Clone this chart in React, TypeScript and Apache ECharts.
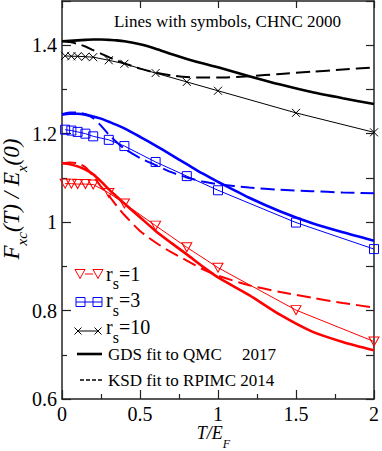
import React, { useEffect, useRef } from 'react';
import * as echarts from 'echarts';

// Symbol (CHNC 2000) data
const symX = [0.02, 0.06, 0.1, 0.15, 0.2, 0.3, 0.4, 0.6, 0.8, 1.0, 1.5, 2.0];
const rs1Sym = [1.087, 1.087, 1.086, 1.086, 1.085, 1.066, 1.042, 0.992, 0.943, 0.897, 0.801, 0.730];
const rs3Sym = [1.209, 1.207, 1.204, 1.200, 1.194, 1.186, 1.172, 1.136, 1.104, 1.072, 0.999, 0.939];
const rs10Sym = [1.376, 1.375, 1.375, 1.374, 1.373, 1.366, 1.358, 1.337, 1.317, 1.297, 1.247, 1.203];

// Fit curves
const fitX = [0, 0.05, 0.1, 0.15, 0.2, 0.25, 0.3, 0.35, 0.4, 0.5, 0.6, 0.7, 0.8, 0.9, 1.0, 1.2, 1.4, 1.6, 1.8, 2.0];
const rs10GDS = [1.409, 1.410, 1.411, 1.412, 1.413, 1.413, 1.412, 1.411, 1.409, 1.402, 1.392, 1.380, 1.369, 1.359, 1.350, 1.330, 1.311, 1.294, 1.280, 1.267];
const rs10KSD = [1.409, 1.407, 1.403, 1.397, 1.389, 1.381, 1.373, 1.366, 1.359, 1.347, 1.338, 1.332, 1.328, 1.327, 1.327, 1.330, 1.335, 1.340, 1.345, 1.350];
const rs3GDS = [1.243, 1.245, 1.245, 1.243, 1.239, 1.234, 1.227, 1.220, 1.212, 1.193, 1.173, 1.152, 1.131, 1.110, 1.091, 1.055, 1.024, 0.998, 0.977, 0.958];
const rs3KSD = [1.244, 1.248, 1.248, 1.244, 1.235, 1.218, 1.198, 1.181, 1.166, 1.145, 1.129, 1.113, 1.101, 1.092, 1.086, 1.078, 1.073, 1.070, 1.067, 1.065];
const rs1GDS = [1.133, 1.131, 1.126, 1.119, 1.108, 1.092, 1.074, 1.058, 1.042, 1.011, 0.980, 0.953, 0.927, 0.900, 0.875, 0.835, 0.790, 0.753, 0.729, 0.710];
const rs1KSD = [1.133, 1.135, 1.133, 1.124, 1.104, 1.080, 1.060, 1.037, 1.016, 0.980, 0.954, 0.932, 0.913, 0.894, 0.879, 0.857, 0.842, 0.829, 0.817, 0.807];

const xTicks = [0, 0.5, 1, 1.5, 2];
const yTicks = [0.6, 0.8, 1, 1.2, 1.4];

const RED = '#ff0000';
const BLUE = '#0000ff';
const BLACK = '#000000';
const AXIS = '#222222';
const FONT = '"Liberation Serif", "Times New Roman", serif';

const pairs = (xs: number[], ys: number[]) => xs.map((x, i) => [x, ys[i]]);

const crossPath = 'path://M0,0L10,10M10,0L0,10';

export default function App() {
  const ref = useRef<HTMLDivElement>(null);
  useEffect(() => {
    if (!ref.current) return;
    const chart = echarts.init(ref.current, null, { renderer: 'svg' });

    const fit = (name: string, ys: number[], color: string, dashed: boolean) => ({
      name,
      type: 'line',
      data: pairs(fitX, ys),
      smooth: 0.25,
      showSymbol: false,
      symbol: 'none',
      lineStyle: dashed
        ? { color, width: 2, type: [14, 6] }
        : { color, width: 2.6, type: 'solid' },
      z: 3,
    });

    const sym = (name: string, ys: number[], color: string, symbol: string, size: any, rotate = 0) => ({
      name,
      type: 'line',
      data: pairs(symX, ys),
      symbol,
      symbolSize: size,
      symbolRotate: rotate,
      showSymbol: true,
      lineStyle: { color, width: 1 },
      itemStyle: { color: 'rgba(0,0,0,0)', borderColor: color, borderWidth: 1 },
      z: 4,
    });

    const richLegend = () => ({
      a: { fontSize: 20, fontFamily: FONT, lineHeight: 20, verticalAlign: 'top', fill: BLACK },
      b: { fontSize: 16, fontFamily: FONT, verticalAlign: 'top', padding: [12, 0, 0, 0], fill: BLACK },
    });

    const graphic: any[] = [
      // Title
      {
        type: 'text', x: 227.5, y: 21,
        style: { text: 'Lines with symbols, CHNC 2000', fontSize: 17, fontFamily: FONT, fill: BLACK, align: 'center', verticalAlign: 'middle' },
      },
      // y-axis title
      {
        type: 'text', x: 14.5, y: 199, rotation: Math.PI / 2,
        style: {
          text: '{a|F}{b|xc}{a|(T) / E}{b|x}{a|(0)}',
          align: 'center', verticalAlign: 'middle', fill: BLACK,
          rich: {
            a: { fontSize: 23, fontFamily: FONT, fontStyle: 'italic', lineHeight: 23, verticalAlign: 'top', fill: BLACK },
            b: { fontSize: 15, fontFamily: FONT, fontStyle: 'italic', verticalAlign: 'top', padding: [14, 0, 0, 0], fill: BLACK },
          },
        },
      },
      // x-axis title
      {
        type: 'text', x: 213.5, y: 424,
        style: {
          text: '{a|T/E}{b|F}',
          align: 'center', verticalAlign: 'top', fill: BLACK,
          rich: {
            a: { fontSize: 18, fontFamily: FONT, fontStyle: 'italic', lineHeight: 18, verticalAlign: 'top', fill: BLACK },
            b: { fontSize: 12, fontFamily: FONT, fontStyle: 'italic', verticalAlign: 'top', padding: [14, 0, 0, 0], fill: BLACK },
          },
        },
      },
      // Legend row 1: rs=1 triangles
      { type: 'line', shape: { x1: 85, y1: 274, x2: 93, y2: 274 }, style: { stroke: RED, lineWidth: 1 } },
      { type: 'polygon', shape: { points: [[75, 269.5], [85, 269.5], [80, 278.5]] }, style: { fill: 'none', stroke: RED, lineWidth: 1 } },
      { type: 'polygon', shape: { points: [[93, 269.5], [103, 269.5], [98, 278.5]] }, style: { fill: 'none', stroke: RED, lineWidth: 1 } },
      { type: 'text', x: 106, y: 263.5, style: { text: '{a|r}{b|s}{a|=1}', align: 'left', verticalAlign: 'top', rich: richLegend() } },
      // Legend row 2: rs=3 squares
      { type: 'line', shape: { x1: 76, y1: 302, x2: 102, y2: 302 }, style: { stroke: BLUE, lineWidth: 1 } },
      { type: 'rect', shape: { x: 76, y: 297.5, width: 9, height: 9 }, style: { fill: 'none', stroke: BLUE, lineWidth: 1 } },
      { type: 'rect', shape: { x: 93, y: 297.5, width: 9, height: 9 }, style: { fill: 'none', stroke: BLUE, lineWidth: 1 } },
      { type: 'text', x: 106, y: 290, style: { text: '{a|r}{b|s}{a|=3}', align: 'left', verticalAlign: 'top', rich: richLegend() } },
      // Legend row 3: rs=10 crosses
      { type: 'line', shape: { x1: 78, y1: 331, x2: 98, y2: 331 }, style: { stroke: BLACK, lineWidth: 1 } },
      { type: 'line', shape: { x1: 74.5, y1: 327.5, x2: 81.5, y2: 334.5 }, style: { stroke: BLACK, lineWidth: 1 } },
      { type: 'line', shape: { x1: 81.5, y1: 327.5, x2: 74.5, y2: 334.5 }, style: { stroke: BLACK, lineWidth: 1 } },
      { type: 'line', shape: { x1: 94.5, y1: 327.5, x2: 101.5, y2: 334.5 }, style: { stroke: BLACK, lineWidth: 1 } },
      { type: 'line', shape: { x1: 101.5, y1: 327.5, x2: 94.5, y2: 334.5 }, style: { stroke: BLACK, lineWidth: 1 } },
      { type: 'text', x: 106, y: 317, style: { text: '{a|r}{b|s}{a|=10}', align: 'left', verticalAlign: 'top', rich: richLegend() } },
      // Legend row 4: GDS solid
      { type: 'line', shape: { x1: 77, y1: 354, x2: 102, y2: 354 }, style: { stroke: BLACK, lineWidth: 2.6 } },
      { type: 'text', x: 108, y: 354.5, style: { text: 'GDS fit to QMC', fontSize: 17, fontFamily: FONT, fill: BLACK, align: 'left', verticalAlign: 'middle' } },
      { type: 'text', x: 242, y: 354.5, style: { text: '2017', fontSize: 17, fontFamily: FONT, fill: BLACK, align: 'left', verticalAlign: 'middle' } },
      // Legend row 5: KSD dashed
      { type: 'line', shape: { x1: 80, y1: 380, x2: 102, y2: 380 }, style: { stroke: BLACK, lineWidth: 1.3, lineDash: [4, 2] } },
      { type: 'text', x: 108, y: 380.5, style: { text: 'KSD fit to RPIMC 2014', fontSize: 17, fontFamily: FONT, fill: BLACK, align: 'left', verticalAlign: 'middle' } },
    ];

    const option: any = {
      animation: false,
      backgroundColor: '#ffffff',
      grid: { left: 62, right: 8, top: 1, bottom: 52, containLabel: false },
      xAxis: [
        {
          type: 'value', position: 'bottom', min: 0, max: 2, interval: 0.5,
          axisLine: { show: true, onZero: false, lineStyle: { color: AXIS, width: 1.5 } },
          axisTick: { show: true, inside: true, length: 9, lineStyle: { color: AXIS, width: 1.2 } },
          minorTick: { show: true, splitNumber: 2, length: 5, lineStyle: { color: AXIS, width: 1.2 } },
          splitLine: { show: false },
          axisLabel: {
            show: true, margin: 5, fontSize: 20, fontFamily: FONT, color: BLACK,
            formatter: (v: number) => (xTicks.some((t) => Math.abs(t - v) < 1e-6) ? String(Number(v.toFixed(2))) : ''),
          },
        },
        {
          type: 'value', position: 'top', min: 0, max: 2, interval: 0.5,
          axisLine: { show: true, onZero: false, lineStyle: { color: AXIS, width: 1.5 } },
          axisTick: { show: true, inside: true, length: 7, lineStyle: { color: AXIS, width: 1.2 } },
          splitLine: { show: false },
          axisLabel: { show: false },
        },
      ],
      yAxis: [
        {
          type: 'value', position: 'left', min: 0.6, max: 1.5, interval: 0.2,
          axisLine: { show: true, onZero: false, lineStyle: { color: AXIS, width: 1.5 } },
          axisTick: { show: true, inside: true, length: 9, lineStyle: { color: AXIS, width: 1.2 } },
          minorTick: { show: true, splitNumber: 2, length: 5, lineStyle: { color: AXIS, width: 1.2 } },
          splitLine: { show: false },
          axisLabel: {
            show: true, margin: 5, fontSize: 20, fontFamily: FONT, color: BLACK, showMaxLabel: false,
            formatter: (v: number) => (yTicks.some((t) => Math.abs(t - v) < 1e-6) ? String(Number(v.toFixed(1))) : ''),
          },
        },
        {
          type: 'value', position: 'right', min: 0.6, max: 1.5, interval: 0.1,
          axisLine: { show: true, onZero: false, lineStyle: { color: AXIS, width: 1.5 } },
          axisTick: { show: true, inside: true, length: 8, lineStyle: { color: AXIS, width: 1.2 } },
          splitLine: { show: false },
          axisLabel: { show: false },
        },
      ],
      series: [
        fit('rs=10 GDS', rs10GDS, BLACK, false),
        fit('rs=10 KSD', rs10KSD, BLACK, true),
        fit('rs=3 GDS', rs3GDS, BLUE, false),
        fit('rs=3 KSD', rs3KSD, BLUE, true),
        fit('rs=1 GDS', rs1GDS, RED, false),
        fit('rs=1 KSD', rs1KSD, RED, true),
        sym('rs=10', rs10Sym, BLACK, crossPath, 8),
        sym('rs=3', rs3Sym, BLUE, 'rect', 9),
        sym('rs=1', rs1Sym, RED, 'triangle', [10, 9], 180),
      ],
      graphic,
    };

    chart.setOption(option);
    return () => chart.dispose();
  }, []);

  return (
    <div
      ref={ref}
      style={{ position: 'fixed', left: 0, top: 0, width: 382, height: 451, background: '#fff' }}
    />
  );
}
